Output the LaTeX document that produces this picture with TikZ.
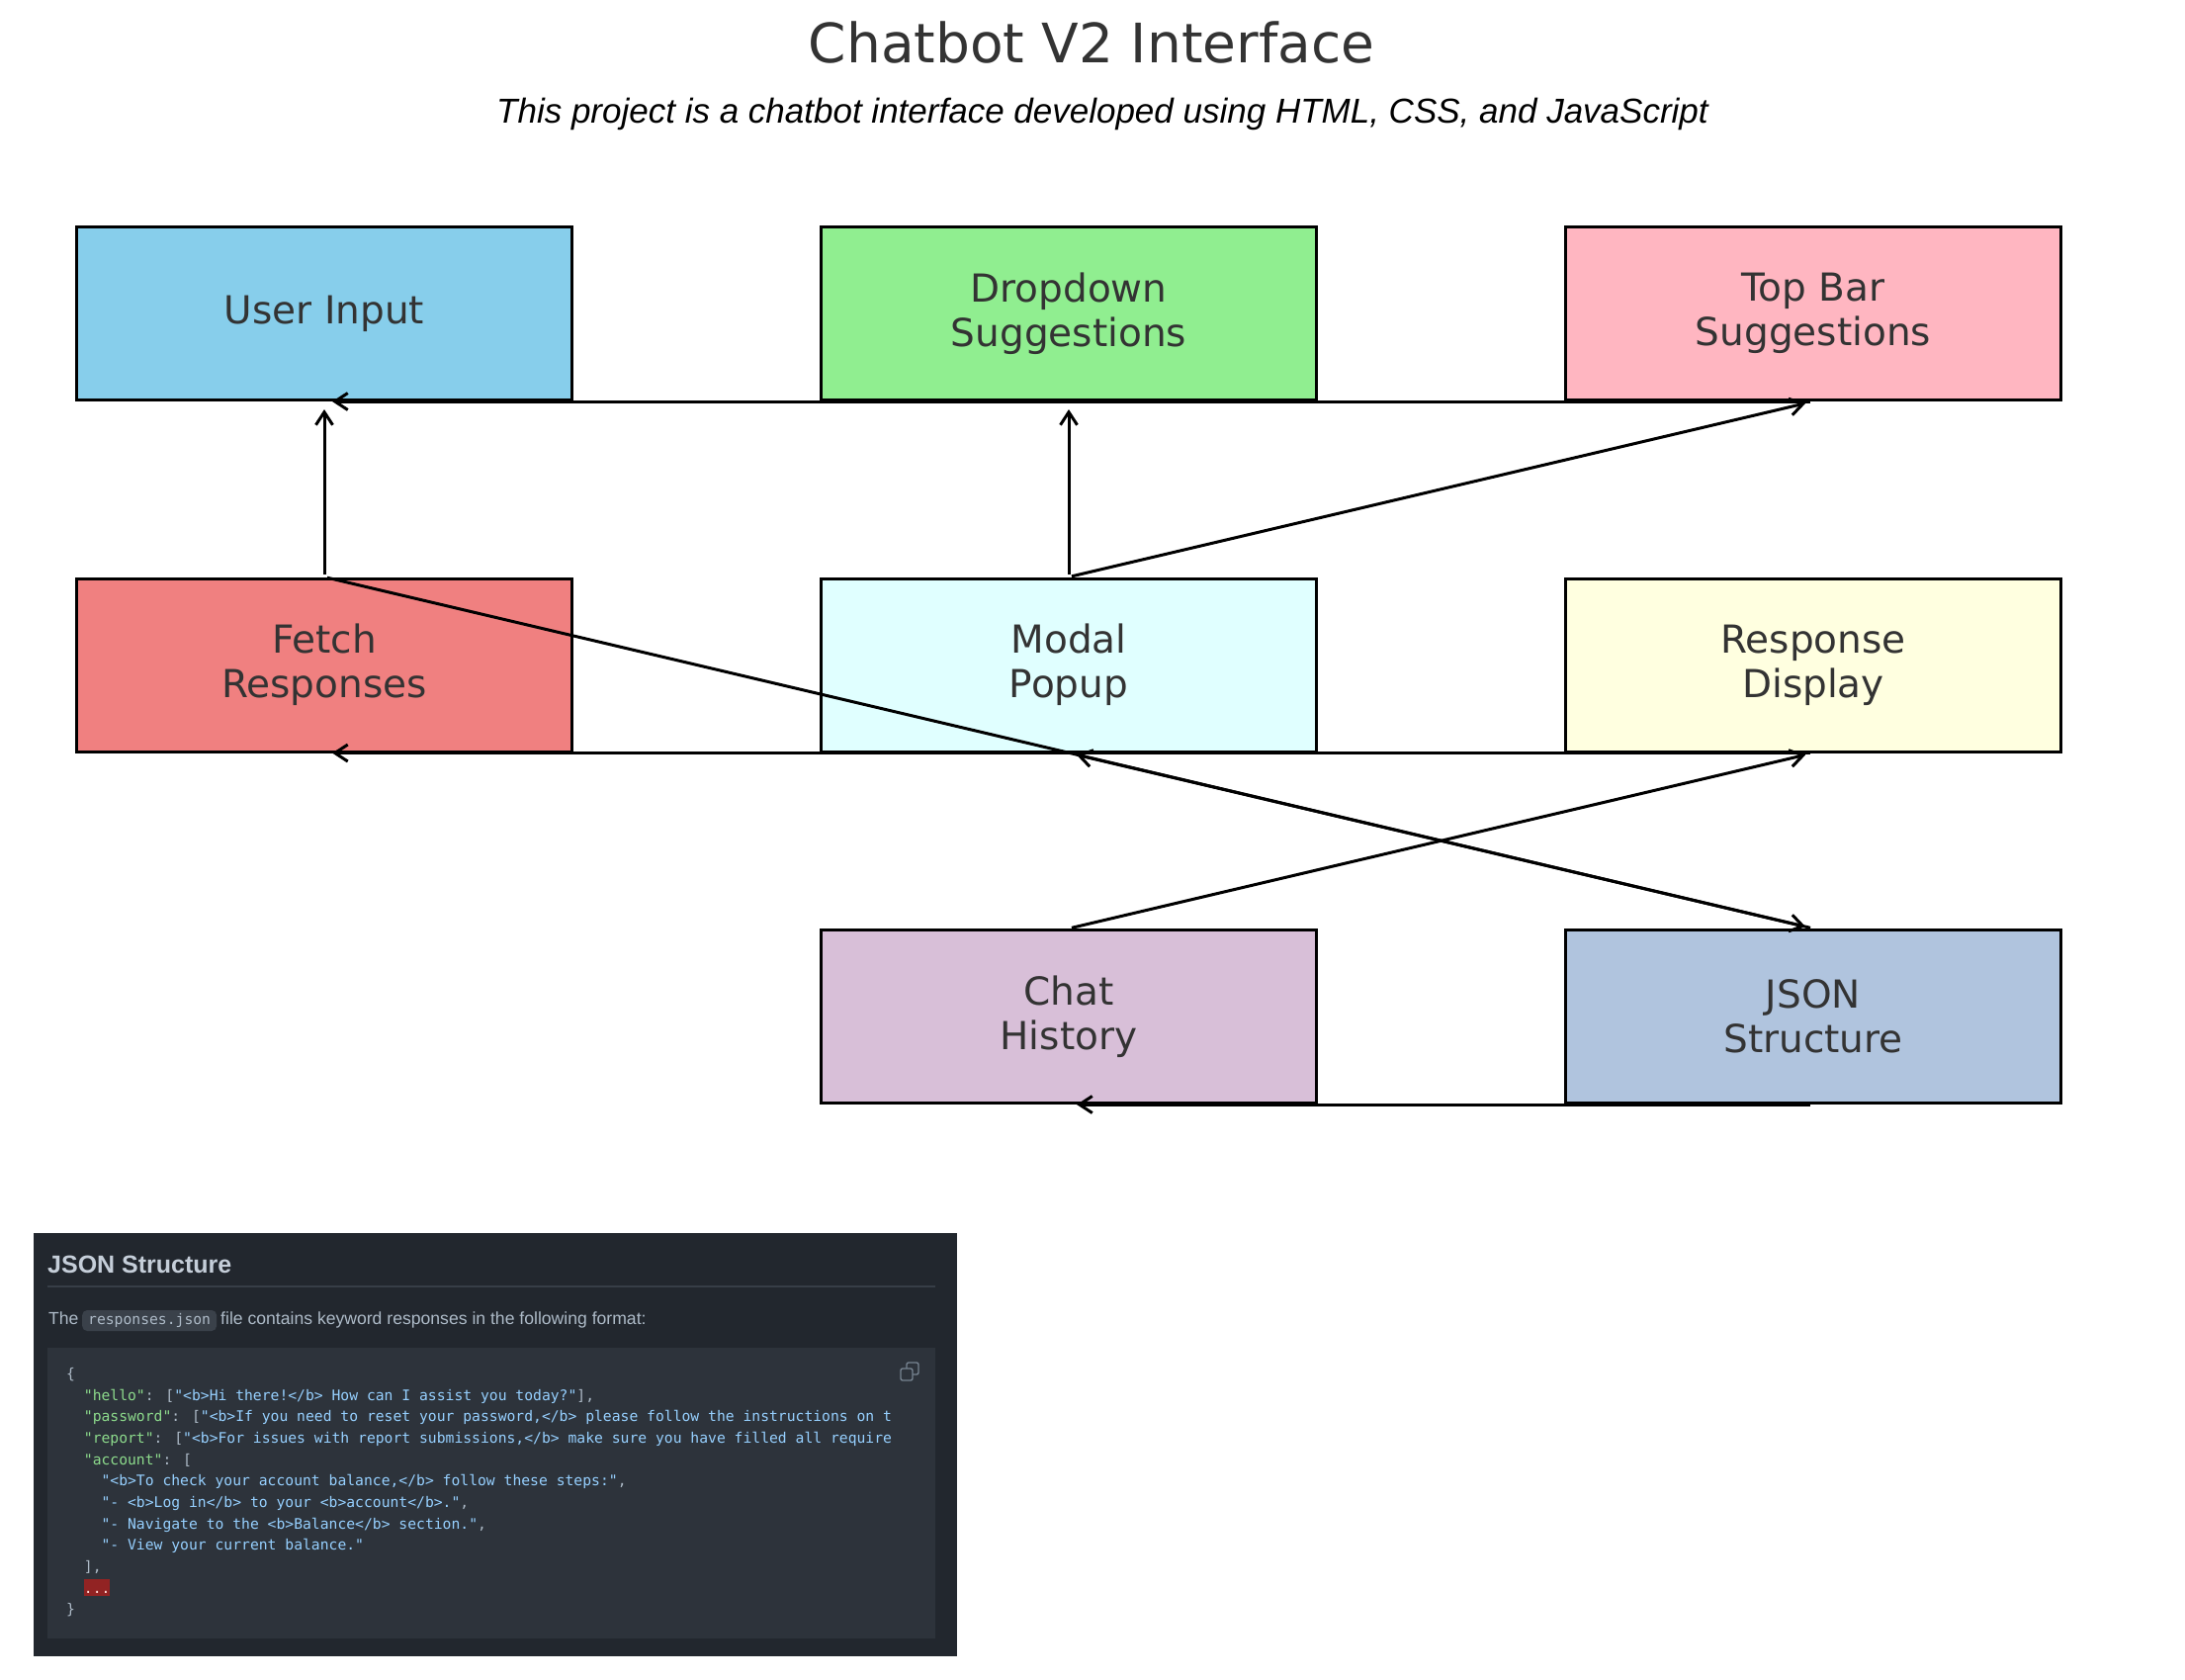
\documentclass[tikz,border=0pt]{standalone}
\usepackage{fontspec}
\setmainfont{DejaVu Sans}
\newfontfamily\subtitlefont{Liberation Sans}
\newfontfamily\ghfont{Liberation Sans}
\newfontfamily\codefont{DejaVu Sans Mono}
\usetikzlibrary{positioning,arrows.meta}

\definecolor{labelgray}{HTML}{333333}
\definecolor{userinput}{HTML}{87CEEB}
\definecolor{dropdown}{HTML}{90EE90}
\definecolor{topbar}{HTML}{FFB6C1}
\definecolor{fetch}{HTML}{F08080}
\definecolor{modal}{HTML}{E0FFFF}
\definecolor{display}{HTML}{FFFFE0}
\definecolor{history}{HTML}{D8BFD8}
\definecolor{jsonbox}{HTML}{B0C4DE}
\definecolor{ghbg}{HTML}{22272E}
\definecolor{ghcode}{HTML}{2D333B}
\definecolor{ghrule}{HTML}{373E47}
\definecolor{ghpill}{HTML}{3A414A}
\definecolor{ghtext}{HTML}{ADBAC7}
\definecolor{ghhead}{HTML}{C5CED9}
\definecolor{ghkey}{HTML}{8DDB8C}
\definecolor{ghstr}{HTML}{96D0FF}
\definecolor{ghred}{HTML}{922323}
\definecolor{ghredtext}{HTML}{FFD8D3}
\definecolor{ghicon}{HTML}{768390}

\newcommand\jkey[1]{\textcolor{ghkey}{#1}}
\newcommand\jstr[1]{\textcolor{ghstr}{#1}}
\newcommand\jpun[1]{\textcolor{ghtext}{#1}}

\begin{document}
\begin{tikzpicture}[
  x=1pt, y=-1pt,
  >={Straight Barb[length=13pt,width=17pt]},
  box/.style={draw=black, line width=3pt, minimum width=501pt, minimum height=175pt,
    inner sep=0pt, align=center, text=labelgray, font=\fontsize{39}{45}\selectfont},
  link/.style={->, line width=3pt, shorten >=8pt, shorten <=3pt},
  codetext/.style={anchor=base west, inner sep=0pt, font=\codefont\fontsize{14.7}{18}\selectfont},
  ghtextstyle/.style={anchor=base west, inner sep=0pt, text=ghtext, font=\ghfont\fontsize{17.6}{21}\selectfont}
]
\useasboundingbox (0,0) rectangle (2210,1698);

% title
\node[anchor=base, text=labelgray, font=\fontsize{55}{66}\selectfont] (title) at (1104,63) {Chatbot V2 Interface};
\node[anchor=base, font=\subtitlefont\itshape\fontsize{35}{42}\selectfont] (subtitle) at (1115,124)
  {This project is a chatbot interface developed using HTML, CSS, and JavaScript};

% components
\node[box, fill=userinput] (input) at (328,317) {User Input};
\node[box, fill=dropdown, right=249pt of input] (dropdown) {Dropdown\\Suggestions};
\node[box, fill=topbar, right=249pt of dropdown] (topbar) {Top Bar\\Suggestions};
\node[box, fill=fetch, below=177.5pt of input] (fetch) {Fetch\\Responses};
\node[box, fill=modal, right=249pt of fetch] (modal) {Modal\\Popup};
\node[box, fill=display, right=249pt of modal] (display) {Response\\Display};
\node[box, fill=history, below=177.5pt of modal] (history) {Chat\\History};
\node[box, fill=jsonbox, right=249pt of history] (json) {JSON\\Structure};

% data flow
\foreach \src/\sa/\dst/\da in {
  fetch/north/input/south,
  modal/north/dropdown/south,
  modal/north/topbar/south,
  topbar/south/input/south,
  display/south/fetch/south,
  fetch/north/json/north,
  json/north/modal/south,
  history/north/display/south,
  json/south/history/south} {
  \draw[link] (\src.\sa) -- (\dst.\da);
}

% README excerpt
\begin{scope}
\node[fill=ghbg, anchor=north west, inner sep=0pt, minimum width=934pt, minimum height=428pt] (shot) at (34,1247) {};
\node[anchor=base west, inner sep=0pt, text=ghhead, font=\ghfont\bfseries\fontsize{25}{30}\selectfont] (shottitle) at (48,1287) {JSON Structure};
\draw[ghrule, line width=1.5pt] (48,1301) -- (946,1301);
\node[ghtextstyle] (intro) at (49,1339) {The};
\node[codetext, fill=ghpill, text=ghtext, rounded corners=5pt, inner xsep=6pt, inner ysep=4pt,
  text height=10pt, text depth=3pt] (pill) at (83,1339) {responses.json};
\node[ghtextstyle] (introrest) at (223,1339) {file contains keyword responses in the following format:};
\node[fill=ghcode, anchor=north west, inner sep=0pt, minimum width=898pt, minimum height=294pt] (codepanel) at (48,1363) {};
\draw[ghicon, line width=1.4pt, rounded corners=2pt] (917,1378) rectangle (929,1390);
\draw[ghicon, line width=1.4pt, rounded corners=2pt, fill=ghcode] (911,1384) rectangle (923,1396);
\foreach \ind/\codeline [count=\n from 0] in {
  0/{\jpun{\{}},
  2/{\jkey{"hello"}\jpun{: [}\jstr{"<b>Hi there!</b> How can I assist you today?"}\jpun{],}},
  2/{\jkey{"password"}\jpun{: [}\jstr{"<b>If you need to reset your password,</b> please follow the instructions on t}},
  2/{\jkey{"report"}\jpun{: [}\jstr{"<b>For issues with report submissions,</b> make sure you have filled all require}},
  2/{\jkey{"account"}\jpun{: [}},
  4/{\jstr{"<b>To check your account balance,</b> follow these steps:"}\jpun{,}},
  4/{\jstr{"- <b>Log in</b> to your <b>account</b>."}\jpun{,}},
  4/{\jstr{"- Navigate to the <b>Balance</b> section."}\jpun{,}},
  4/{\jstr{"- View your current balance."}},
  2/{\jpun{],}},
  2/{\setlength{\fboxsep}{0pt}\colorbox{ghred}{\rule[-2.5pt]{0pt}{17pt}\textcolor{ghredtext}{...}}},
  0/{\jpun{\}}}} {
  \node[codetext] (code\n) at ({67+8.85*\ind}, {1394.5+21.65*\n}) {\codeline};
}
\end{scope}
\end{tikzpicture}
\end{document}
